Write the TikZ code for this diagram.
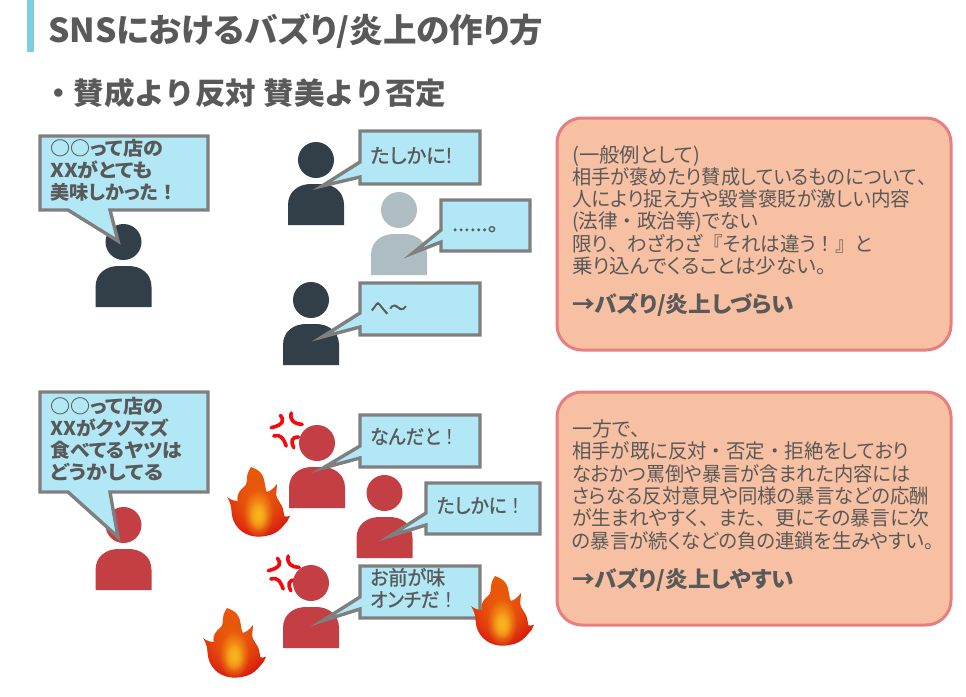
\documentclass[tikz,border=0pt]{standalone}
\usepackage{fontspec}
\usepackage{graphicx}
\setmainfont{Noto Sans CJK JP}[RawFeature={+palt}]
\newfontfamily\fullw{Noto Sans CJK JP}
\newfontfamily\semib{Noto Sans CJK JP}[RawFeature={+palt},FakeBold=1.2]
\usetikzlibrary{fadings}
\definecolor{txt}{HTML}{595959}
\definecolor{dark}{HTML}{333F48}
\definecolor{pale}{HTML}{AEBDC2}
\definecolor{angry}{HTML}{C33F43}
\definecolor{bubfill}{HTML}{B2E8F5}
\definecolor{bubline}{HTML}{7F7F7F}
\definecolor{boxfill}{HTML}{F7C0A2}
\definecolor{boxline}{HTML}{E97E82}
\definecolor{accent}{HTML}{7DCDE3}
\definecolor{flametop}{HTML}{E85C08}
\definecolor{flamebot}{HTML}{D60F12}
\definecolor{flamemid}{HTML}{F9B41E}
\definecolor{flameora}{HTML}{EE6A0C}
\definecolor{markred}{HTML}{F5090F}
\tikzfading[name=blobfade, inner color=transparent!0, outer color=transparent!100]
\tikzset{
  bub/.style={draw=bubline,fill=bubfill,line width=3.4pt,miter limit=10},
  bubtext/.style={anchor=base west,inner sep=0pt,text=txt,align=left,font=\fontsize{19}{22}\selectfont\bfseries},
  smalltext/.style={anchor=base west,inner sep=0pt,text=txt,align=left,font=\fontsize{20}{22}\selectfont\semib},
  panel/.style={draw=boxline,fill=boxfill,line width=3pt,rounded corners=25pt},
  bodytext/.style={anchor=base west,inner sep=0pt,text=txt,align=left,font=\fontsize{20}{22.3}\selectfont},
  concl/.style={anchor=base west,inner sep=0pt,text=txt,font=\fontsize{22}{26}\selectfont\bfseries},
  markline/.style={draw=markred,line width=3.6pt,line cap=round}
}
\newcommand{\fitw}[2]{\resizebox{#1pt}{\height}{#2}}
\newcommand{\fp}[1]{{\fullw #1}}
\newcommand{\mkperson}[3]{% head cx, head cy, colour
  \fill[#3] (#1,#2) circle (18);
  \fill[#3] ({#1-28},{#2+65}) -- ({#1-28},{#2+45})
    .. controls ({#1-28},{#2+31}) and ({#1-17},{#2+24}) .. ({#1-5},{#2+24})
    -- ({#1+5},{#2+24})
    .. controls ({#1+17},{#2+24}) and ({#1+28},{#2+31}) .. ({#1+28},{#2+45})
    -- ({#1+28},{#2+65}) -- cycle;
}
\newcommand{\flameoutline}{%
      (29,69.5) .. controls (15,68.5) and (5,58) .. (4.5,44)
      .. controls (4.5,38) and (2,33) .. (0,30)
      .. controls (4,33) and (7,34) .. (10.7,34.3)
      .. controls (10,30) and (11,27) .. (12.3,25)
      .. controls (15,21) and (18,20) .. (19,17.7)
      .. controls (20,15) and (20,13) .. (20,11)
      .. controls (20,7) and (22,3) .. (24,0)
      .. controls (27,1) and (30,2.5) .. (32.3,4.3)
      .. controls (35,7) and (37,11) .. (37.3,14.3)
      .. controls (38,18) and (38.5,22) .. (39.7,25)
      .. controls (44,24) and (47,21) .. (50,17)
      .. controls (50,21) and (49,24) .. (49,27.7)
      .. controls (50,33) and (54,36) .. (55.7,41)
      .. controls (56.5,44) and (57,47) .. (57.3,49.3)
      .. controls (59,50) and (61,49.5) .. (63,48.7)
      .. controls (62,52) and (60,55) .. (57.3,57.7)
      .. controls (53,63) and (49,66) .. (44,67.7)
      .. controls (39,69) and (34,70) .. (29,69.5) -- cycle}
\newcommand{\mkflame}[2]{%
  \begin{scope}[shift={(#1,#2)}]
    \shade[top color=flametop,bottom color=flamebot] \flameoutline;
    \begin{scope}
      \clip \flameoutline;
      \fill[flameora,path fading=blobfade] (30,38) ellipse (30 and 38);
      \fill[flamemid,path fading=blobfade] (31,47) ellipse (15 and 24);
      \fill[flamemid,path fading=blobfade] (31,49) ellipse (10 and 14);
    \end{scope}
  \end{scope}
}
\newcommand{\mkanger}[2]{%
  \begin{scope}[shift={(#1,#2)}]
    \draw[markline] (-5,-15.7) .. controls (-1,-11) and (-2,-6) .. (-14.3,-3.3);
    \draw[markline] (5.7,-18) .. controls (4,-10) and (9,-7) .. (16.7,-6.7);
    \draw[markline] (-11.7,5) .. controls (-4,3) and (-2,8) .. (0.7,15);
    \draw[markline] (13,6) .. controls (6,6) and (5,10) .. (8.3,16.7);
  \end{scope}
}
\begin{document}
\begin{tikzpicture}[x=1pt,y=-1pt]
\useasboundingbox (0,0) rectangle (966,696);
\fill[white] (0,0) rectangle (966,696);
\fill[accent] (27,0) rectangle (34,52);
\node[anchor=base west,inner sep=0pt,text=txt,font=\fontsize{33}{36}\selectfont\bfseries] (title) at (48,42) {\fitw{495}{SNSにおけるバズり/炎上の作り方}};
\node[anchor=base west,inner sep=0pt,text=txt,font=\fontsize{30}{34}\selectfont\bfseries\fullw] (subtitle) at (43,104) {\fitw{403}{・賛成より反対 賛美より否定}};

% upper row
\mkperson{123.5}{242}{dark}
\draw[bub] (40,136) -- (208,136) -- (208,210) -- (110,210) -- (118,241) -- (68,210) -- (40,210) -- cycle;
\node[bubtext] (a1) at (50,199) {\fitw{113}{○○って店の}\\\fitw{103}{XXがとても}\\\fitw{127}{美味しかった\fp{！}}};
\mkperson{316}{160}{dark}
\draw[bub] (360,131) -- (480,131) -- (480,184) -- (360,184) -- (360,177) -- (322,186) -- (360,162) -- cycle;
\node[smalltext] (a2) at (370,163) {\fitw{82}{たしかに!}};
\mkperson{399}{210}{pale}
\draw[bub] (441,200) -- (530,200) -- (530,251) -- (441,251) -- (441,242) -- (413,253) -- (441,230) -- cycle;
\node[smalltext] (a3) at (452,231) {\fitw{46}{......。}};
\mkperson{311}{300}{dark}
\draw[bub] (360,283) -- (480,283) -- (480,335) -- (360,335) -- (360,327) -- (322,337) -- (360,313) -- cycle;
\node[smalltext] (a4) at (370,315) {\fitw{37}{へ〜}};
\draw[panel] (557,118) rectangle (951,350);
\node[bodytext] (t1) at (572,273.5) {\fitw{128}{(一般例として)}\\\fitw{364}{相手が褒めたり賛成しているものについて\fp{、}}\\\fitw{338}{人により捉え方や毀誉褒貶が激しい内容}\\\fitw{186}{(法律\fp{・}政治等)でない}\\\fitw{300}{限り\fp{、}わざわざ\fp{『}それは違う\fp{！』}と}\\\fitw{254}{乗り込んでくることは少ない。}};
\node[concl] (c1) at (572,312) {\fitw{222}{→バズり/炎上しづらい}};

% lower row
\mkperson{123.5}{525}{angry}
\draw[bub] (40,392) -- (208,392) -- (208,492) -- (110,492) -- (118,537) -- (68,492) -- (40,492) -- cycle;
\node[bubtext] (b1) at (50,479) {\fitw{113}{○○って店の}\\\fitw{119}{XXがクソマズ}\\\fitw{132}{食べてるヤツは}\\\fitw{113}{どうかしてる}};
\mkanger{285.5}{431}
\mkperson{317}{443}{angry}
\draw[bub] (360,415) -- (480,415) -- (480,467) -- (360,467) -- (360,458) -- (323,468) -- (360,446) -- cycle;
\node[smalltext] (b2) at (370,444) {\fitw{89}{なんだと\fp{！}}};
\mkperson{384.5}{493}{angry}
\draw[bub] (426,483) -- (540,483) -- (540,534) -- (426,534) -- (426,525) -- (390,536) -- (426,513) -- cycle;
\node[smalltext] (b3) at (436.5,513) {\fitw{89}{たしかに\fp{！}}};
\mkanger{282.5}{574}
\mkperson{311}{583}{angry}
\draw[bub] (360,566) -- (480,566) -- (480,618) -- (360,618) -- (360,609) -- (322,621) -- (360,597) -- cycle;
\node[smalltext] (b4) at (370,607) {\fitw{75}{お前が味}\\\fitw{88}{オンチだ\fp{！}}};
\mkflame{227}{467}
\mkflame{203}{608}
\mkflame{471}{576}
\draw[panel] (557,392) rectangle (951,625);
\node[bodytext] (t2) at (572,548) {一方で\fp{、}\\\fitw{337}{相手が既に反対\fp{・}否定\fp{・}拒絶をしており}\\\fitw{338}{なおかつ罵倒や暴言が含まれた内容には}\\\fitw{357}{さらなる反対意見や同様の暴言などの応酬}\\\fitw{357}{が生まれやすく\fp{、}また\fp{、}更にその暴言に次}\\\fitw{362}{の暴言が続くなどの負の連鎖を生みやすい。}};
\node[concl] (c2) at (572,587) {\fitw{222}{→バズり/炎上しやすい}};
\end{tikzpicture}
\end{document}
